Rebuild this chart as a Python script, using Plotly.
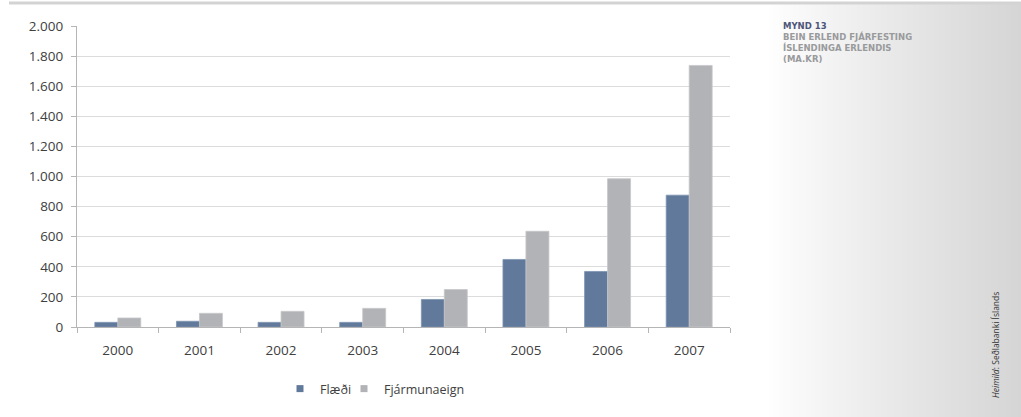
import plotly.graph_objects as go

# Bein erlend fjárfesting Íslendinga erlendis, ma.kr.
years = ["2000", "2001", "2002", "2003", "2004", "2005", "2006", "2007"]
flaedi = [31, 38, 31, 31, 183, 449, 369, 876]
fjarmunaeign = [60, 91, 104, 124, 249, 636, 985, 1738]
y_ticks = [0, 200, 400, 600, 800, 1000, 1200, 1400, 1600, 1800, 2000]

title_lines = ["MYND 13", "BEIN ERLEND FJÁRFESTING", "ÍSLENDINGA ERLENDIS", "(MA.KR)"]
source_text = "<i>Heimild</i>: Seðlabanki Íslands"

COL_FLAEDI = "#617a9b"
COL_FJAR = "#b2b3b7"

W, H = 1021, 417
L, R, T, B = 77, 291, 26, 90


def px_x(px):
    return (px - L) / (W - L - R)


def px_y(py):
    return (H - B - py) / (H - T - B)


fig = go.Figure()
fig.add_trace(go.Bar(x=years, y=flaedi, name="Flæði", marker=dict(color=COL_FLAEDI,
                     line=dict(color="#7d93b0", width=0.8)), showlegend=False))
fig.add_trace(go.Bar(x=years, y=fjarmunaeign, name="Fjármunaeign", marker=dict(color=COL_FJAR,
                     line=dict(color="#c6c7ca", width=0.8)), showlegend=False))

# legend entries with small square keys, one legend box per series
for name, col, lg in [("Flæði", COL_FLAEDI, "legend"), ("Fjármunaeign", COL_FJAR, "legend2")]:
    fig.add_trace(go.Scatter(x=[None], y=[None], mode="markers", name=name, legend=lg,
                             marker=dict(symbol="square", size=7, color=col)))

shapes = []
# grey side panel with a horizontal fade
x0, x1 = 767, W
n = 127
for i in range(n):
    t = (i + 0.5) / n
    v = int(round(255 - 42 * t ** 0.9))
    shapes.append(dict(type="rect", xref="paper", yref="paper",
                       x0=px_x(x0 + (x1 - x0) * i / n), x1=px_x(x0 + (x1 - x0) * (i + 1) / n + 0.6),
                       y0=px_y(H), y1=px_y(4), line=dict(width=0),
                       fillcolor=f"rgb({v},{v},{v})", layer="below"))
# thin rule across the top
shapes.append(dict(type="line", xref="paper", yref="paper", x0=px_x(9), x1=px_x(W),
                   y0=px_y(3), y1=px_y(3), line=dict(color="#d3d3d3", width=3)))

title_html = "<br>".join(
    f"<b><span style='color:{'#4d5679' if i == 0 else '#999a9c'}'>{line}</span></b>"
    for i, line in enumerate(title_lines))

annotations = [
    dict(text=title_html, xref="paper", yref="paper", x=px_x(781), y=px_y(19),
         xanchor="left", yanchor="top", align="left", showarrow=False,
         font=dict(family="DejaVu Sans", size=8.5, color="#999a9c")),
    dict(text=source_text, xref="paper", yref="paper",
         x=px_x(995), y=px_y(345), textangle=-90, showarrow=False,
         xanchor="center", yanchor="middle",
         font=dict(family="Open Sans", size=8.5, color="#333333")),
]

legend_common = dict(orientation="h", xanchor="left", y=px_y(389), yanchor="middle",
                     font=dict(size=12.5, color="#404040"),
                     bgcolor="rgba(0,0,0,0)", itemwidth=30)

fig.update_layout(
    width=W, height=H, autosize=False,
    margin=dict(l=L, r=R, t=T, b=B),
    paper_bgcolor="white", plot_bgcolor="white",
    separators=",.",
    barmode="group", bargap=0.437, bargroupgap=0,
    font=dict(family="Open Sans", size=13, color="#595959"),
    xaxis=dict(type="category", showgrid=False, showline=True, linecolor="#b5b5b5",
               linewidth=1, ticks="outside", tickson="boundaries", ticklen=5,
               tickcolor="#b5b5b5", ticklabelstandoff=11,
               tickfont=dict(size=13.5, color="#404040")),
    yaxis=dict(range=[0, 2000], tickvals=y_ticks, tickformat=",d",
               showgrid=True, gridcolor="#dcdcdc", gridwidth=1,
               showline=True, linecolor="#b5b5b5", linewidth=1,
               ticks="outside", ticklen=5, tickcolor="#b5b5b5", ticklabelstandoff=5,
               zeroline=False, tickfont=dict(size=13.5, color="#404040")),
    legend=dict(x=px_x(280), **legend_common),
    legend2=dict(x=px_x(344), **legend_common),
    shapes=shapes, annotations=annotations,
)

fig.write_html("out.html")
